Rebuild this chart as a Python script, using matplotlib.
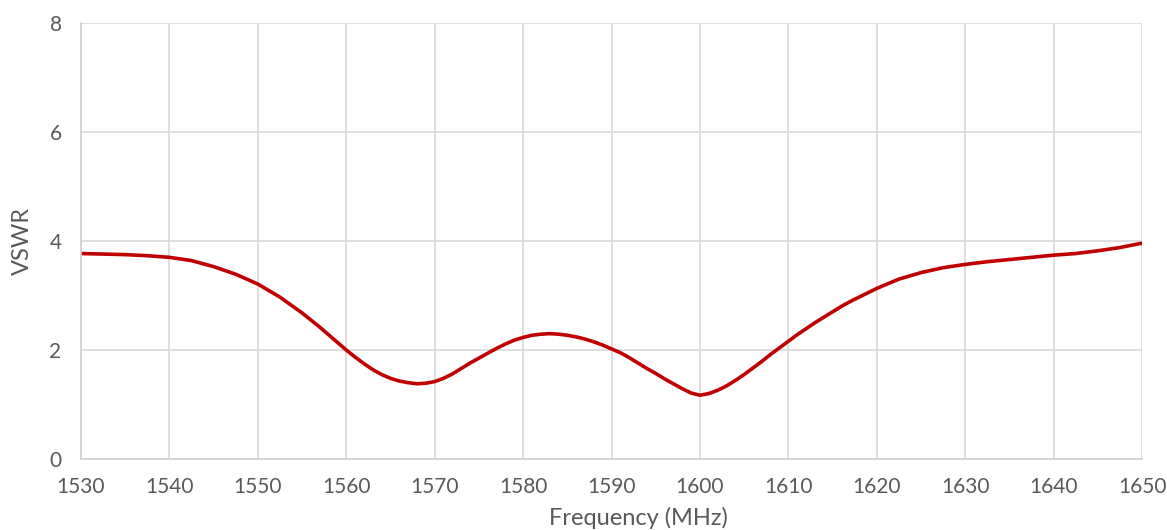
import matplotlib
matplotlib.use("Agg")
import matplotlib.pyplot as plt

freq = [1530, 1532.5, 1535, 1537.5, 1540, 1542.5, 1545, 1547.5, 1550, 1552.5,
        1555, 1556, 1557, 1558, 1559, 1560, 1561, 1562, 1563, 1564,
        1565, 1566, 1567, 1568, 1569, 1570, 1571, 1572, 1573, 1574,
        1575, 1576, 1577, 1578, 1579, 1580, 1581, 1582, 1583, 1584,
        1585, 1586, 1587, 1588, 1589, 1590, 1591, 1592, 1593, 1594,
        1595, 1596, 1597, 1598, 1599, 1600, 1601, 1602, 1603, 1604,
        1605, 1606, 1607, 1608, 1609, 1610, 1611, 1612, 1613, 1614,
        1615, 1616, 1617, 1618, 1619, 1620, 1622.5, 1625, 1627.5,
        1630, 1632.5, 1635, 1637.5, 1640, 1642.5, 1645, 1647.5, 1650]
vswr = [3.77, 3.76, 3.75, 3.73, 3.70, 3.64, 3.53, 3.39, 3.21, 2.97,
        2.68, 2.55, 2.42, 2.28, 2.14, 2.00, 1.87, 1.75, 1.64, 1.55,
        1.48, 1.43, 1.40, 1.38, 1.39, 1.42, 1.48, 1.56, 1.66, 1.76,
        1.85, 1.94, 2.03, 2.11, 2.18, 2.23, 2.27, 2.29, 2.30, 2.29,
        2.27, 2.24, 2.20, 2.15, 2.09, 2.02, 1.95, 1.86, 1.76, 1.66,
        1.57, 1.47, 1.38, 1.29, 1.21, 1.17, 1.20, 1.26, 1.34, 1.44,
        1.55, 1.67, 1.79, 1.92, 2.04, 2.16, 2.28, 2.39, 2.50, 2.60,
        2.70, 2.80, 2.89, 2.97, 3.05, 3.13, 3.30, 3.42, 3.51,
        3.57, 3.62, 3.66, 3.70, 3.74, 3.77, 3.82, 3.88, 3.96]
xticks = list(range(1530, 1651, 10))
yticks = [0, 2, 4, 6, 8]

plt.rcParams['font.family'] = ['Lato', 'DejaVu Sans']
fig = plt.figure(figsize=(11.67, 5.30), dpi=100)
ax = fig.add_axes([0.0694, 0.134, 0.9092, 0.8226])
ax.plot(freq, vswr, color='#c00000', linewidth=2.6,
        solid_capstyle='round', solid_joinstyle='round')
ax.set_xlim(1530, 1650)
ax.set_ylim(0, 8)
ax.set_xticks(xticks)
ax.set_yticks(yticks)
ax.grid(True, color='#d9d9d9', linewidth=1.2)
ax.set_axisbelow(True)
for s in ax.spines.values():
    s.set_visible(False)
for side in ('left', 'bottom'):
    ax.spines[side].set_visible(True)
    ax.spines[side].set_color('#d0d0d0')
    ax.spines[side].set_linewidth(1.2)
ax.tick_params(length=0, labelsize=15, labelcolor='#595959')
ax.tick_params(axis='x', pad=13)
ax.tick_params(axis='y', pad=14)
ax.set_xlabel('Frequency (MHz)', fontsize=17, color='#595959', labelpad=7)
ax.xaxis.label.set_x(0.525)
ax.set_ylabel('VSWR', fontsize=17, color='#595959', labelpad=12)
fig.savefig('out.png', dpi=100)
